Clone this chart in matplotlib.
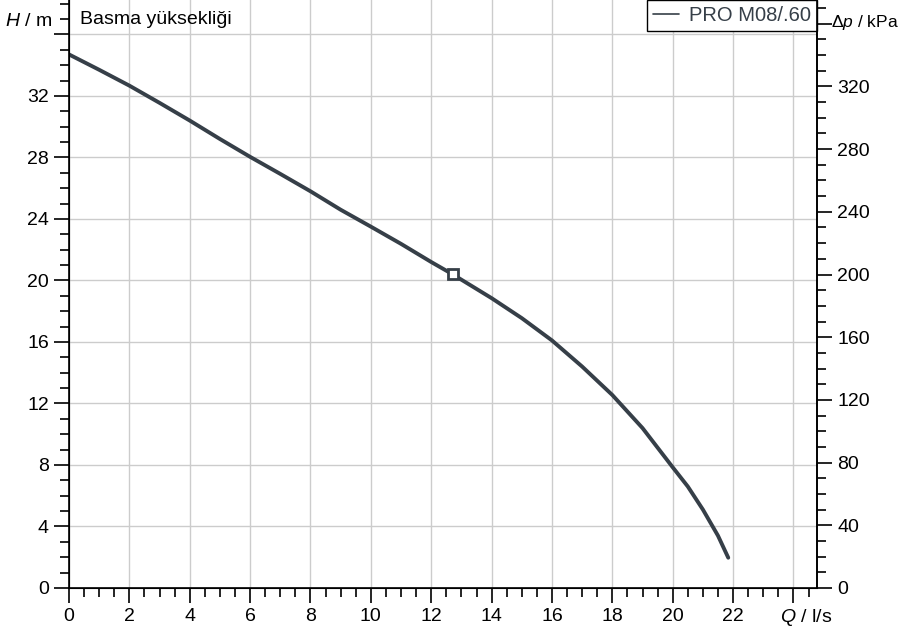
import numpy as np
import matplotlib.pyplot as plt
from matplotlib.ticker import MultipleLocator

plt.rcParams['font.family'] = ['Liberation Sans', 'DejaVu Sans']
plt.rcParams['mathtext.fontset'] = 'custom'
plt.rcParams['mathtext.rm'] = 'Liberation Sans'
plt.rcParams['mathtext.it'] = 'Liberation Sans:italic'

# pump curve
flow = [0, 1, 2, 3, 4, 5, 6, 7, 8, 9, 10, 11, 12, 12.71, 13, 14, 15, 16, 17, 18, 19, 20, 20.5, 21, 21.5, 21.84]
head = [34.7, 33.7, 32.67, 31.55, 30.4, 29.2, 28.04, 26.93, 25.8, 24.6, 23.5, 22.38, 21.2, 20.4, 20.05,
        18.85, 17.55, 16.1, 14.4, 12.55, 10.4, 7.85, 6.6, 5.1, 3.4, 1.97]
duty_flow = [12.71]
duty_head = [20.4]
series_name = 'PRO M08/.60'

x_ticks = np.arange(0, 25, 2)
x_labels = [str(v) for v in range(0, 23, 2)] + ['']
h_ticks = np.arange(0, 37, 4)
h_labels = [str(v) for v in range(0, 33, 4)] + ['']
p_ticks = np.arange(0, 361, 40)
p_labels = [str(v) for v in range(0, 321, 40)] + ['']

curve_color = '#363f48'
grid_color = '#cccccc'
fs = 14

fig = plt.figure(figsize=(9.05, 6.32), dpi=100)
ax = fig.add_axes([69 / 905, 1 - 588 / 632, (817 - 69) / 905, 588 / 632])

ax.plot(flow, head, color=curve_color, lw=2.8, solid_capstyle='round', solid_joinstyle='round',
        label=series_name)
ax.plot(duty_flow, duty_head, marker='s', ms=7, mfc='white', mec=curve_color, mew=2, ls='none')

ax.set_xlim(0, 24.78)
ax.set_ylim(0, 38.24)
ax.set_xticks(x_ticks, x_labels)
ax.set_yticks(h_ticks, h_labels)
ax.xaxis.set_minor_locator(MultipleLocator(0.5))
ax.yaxis.set_minor_locator(MultipleLocator(1))
ax.grid(True, which='major', color=grid_color, lw=1)
ax.set_axisbelow(True)
ax.tick_params(which='major', length=11, width=1.2, labelsize=fs, direction='out')
ax.tick_params(which='minor', length=6.5, width=1.2, direction='out')
ax.spines['top'].set_visible(False)
for s in ['left', 'bottom', 'right']:
    ax.spines[s].set_linewidth(1.2)

# right axis in kPa
ax2 = ax.twinx()
ax2.set_ylim(0, 38.24 * 9.81)
ax2.set_yticks(p_ticks, p_labels)
ax2.yaxis.set_minor_locator(MultipleLocator(10))
ax2.tick_params(which='major', length=11, width=1.2, labelsize=fs, direction='out')
ax2.tick_params(which='minor', length=6.5, width=1.2, direction='out')
ax2.spines['top'].set_visible(False)
ax2.spines['right'].set_linewidth(1.2)

fig.text(5 / 905, 1 - 22 / 632, '$H$ / m', fontsize=fs, va='center', ha='left')
fig.text(80 / 905, 1 - 20 / 632, 'Basma yüksekliği', fontsize=fs, va='center', ha='left')
fig.text(831 / 905, 1 - 23 / 632, '$\\Delta p$ / kPa', fontsize=12.5, va='center', ha='left')
fig.text(780 / 905, 1 - 617 / 632, '$Q$ / l/s', fontsize=fs, va='center', ha='left')

leg = ax.legend(loc='upper right', bbox_to_anchor=(1.0, 1.0), fontsize=14.5, handlelength=1.3,
                handletextpad=0.5, borderpad=0.3, borderaxespad=0, fancybox=False,
                edgecolor='black', framealpha=1, labelcolor=curve_color)
leg.get_frame().set_linewidth(1.0)
for h in leg.legend_handles:
    h.set_linewidth(1.2)

fig.savefig('out.png', dpi=100)
